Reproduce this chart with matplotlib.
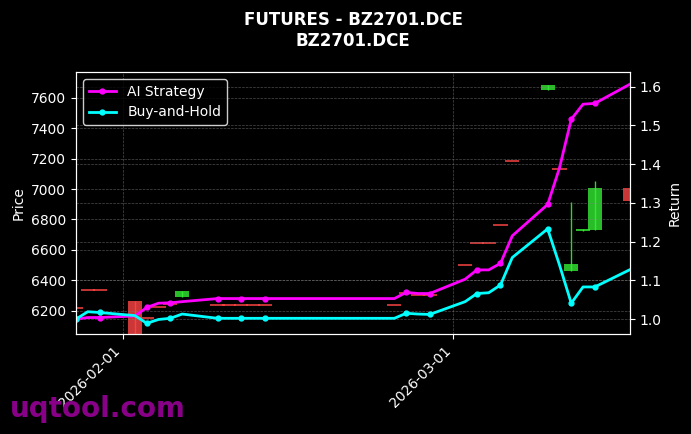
import pandas as pd
import matplotlib
matplotlib.use('Agg')
import matplotlib.pyplot as plt
import matplotlib.dates as mdates

# trading days shown on the chart
dates = ['2026-01-28', '2026-01-29', '2026-01-30', '2026-02-02', '2026-02-03',
         '2026-02-04', '2026-02-05', '2026-02-06', '2026-02-09', '2026-02-10',
         '2026-02-11', '2026-02-12', '2026-02-13', '2026-02-24', '2026-02-25',
         '2026-02-26', '2026-02-27', '2026-03-02', '2026-03-03', '2026-03-04',
         '2026-03-05', '2026-03-06', '2026-03-09', '2026-03-10', '2026-03-11',
         '2026-03-12', '2026-03-13', '2026-03-16']

# OHLC
open_ = [6218, 6335, 6335, 6265, 6154, 6226, 6246, 6292, 6240, 6240,
         6240, 6240, 6240, 6240, 6318, 6305, 6305, 6502, 6647, 6647,
         6765, 7186, 7655, 7134, 6463, 6726, 6733, 7009]
close = [6218, 6335, 6335, 6020, 6154, 6226, 6246, 6331, 6240, 6240,
         6240, 6240, 6240, 6240, 6318, 6305, 6305, 6502, 6647, 6647,
         6765, 7186, 7686, 7134, 6509, 6739, 7009, 6923]
high = [6218, 6335, 6335, 6265, 6154, 6226, 6246, 6331, 6240, 6240,
        6240, 6240, 6240, 6240, 6318, 6305, 6305, 6502, 6647, 6647,
        6765, 7186, 7686, 7134, 6917, 6739, 7055, 7009]
low = [6218, 6335, 6335, 6020, 6154, 6226, 6246, 6292, 6240, 6240,
       6240, 6240, 6240, 6240, 6318, 6305, 6305, 6502, 6647, 6647,
       6765, 7186, 7655, 7134, 6463, 6726, 6733, 6923]

# cumulative returns
ai_strategy = [1.000, 1.004, 1.004, 1.008, 1.030, 1.041, 1.042, 1.045, 1.053, 1.053,
               1.053, 1.053, 1.053, 1.053, 1.069, 1.066, 1.066, 1.103, 1.127, 1.127,
               1.144, 1.215, 1.296, 1.390, 1.516, 1.555, 1.557, 1.607]
buy_hold = [1.000, 1.019, 1.017, 1.009, 0.989, 0.999, 1.002, 1.013, 1.002, 1.002,
            1.002, 1.002, 1.002, 1.002, 1.015, 1.013, 1.012, 1.045, 1.066, 1.068,
            1.088, 1.159, 1.233, 1.140, 1.041, 1.083, 1.083, 1.128]

df = pd.DataFrame({'open': open_, 'high': high, 'low': low, 'close': close,
                   'ai': ai_strategy, 'bh': buy_hold}, index=pd.to_datetime(dates))

plt.rcParams['font.family'] = 'DejaVu Sans'
fig = plt.figure(figsize=(6.91, 4.34), dpi=100, facecolor='black')
ax = fig.add_axes([0.110, 0.230, 0.802, 0.604])
ax.set_facecolor('black')

# candles
width = 1.2
for d, row in df.iterrows():
    up = row['close'] > row['open']
    color = '#33ee33' if up else '#ff4444'
    ax.vlines(d, row['low'], row['high'], color=color, linewidth=1, alpha=0.9)
    body = abs(row['close'] - row['open'])
    if body == 0:
        ax.hlines(row['open'], d - pd.Timedelta(days=width / 2), d + pd.Timedelta(days=width / 2),
                  color='#ff4444', linewidth=1.2, alpha=0.9)
    else:
        ax.bar(d, body, bottom=min(row['open'], row['close']), width=width,
               color=color, alpha=0.8)

ax.set_ylim(6045, 7770)
ax.set_xlim(df.index[0], df.index[-1])
ax.set_ylabel('Price', color='white')

ax2 = ax.twinx()
ax2.plot(df.index, df['ai'], color='#ff00ff', linewidth=2, marker='o', markersize=3.5,
         markevery=2, label='AI Strategy')
ax2.plot(df.index, df['bh'], color='#00ffff', linewidth=2, marker='o', markersize=3.5,
         markevery=2, label='Buy-and-Hold')
ax2.set_ylim(0.961, 1.638)
ax2.set_ylabel('Return', color='white')

for a in (ax, ax2):
    a.tick_params(colors='white', labelsize=10)
    for s in a.spines.values():
        s.set_color('white')
ax.grid(True, color='gray', linestyle='--', linewidth=0.5, alpha=0.6)
ax2.grid(True, color='gray', linestyle='--', linewidth=0.5, alpha=0.6)

ax.xaxis.set_major_locator(mdates.MonthLocator())
ax.xaxis.set_major_formatter(mdates.DateFormatter('%Y-%m-%d'))
plt.setp(ax.get_xticklabels(), rotation=45, ha='right')

leg = ax2.legend(loc='upper left', facecolor='black', edgecolor='white', fontsize=10)
for t in leg.get_texts():
    t.set_color('white')

ax.set_title('FUTURES - BZ2701.DCE\nBZ2701.DCE', color='white', fontsize=12,
             fontweight='bold', pad=19)

fig.text(0.015, 0.04, 'uqtool.com', color='#880088', fontsize=20, fontweight='bold')

fig.savefig('out.png', dpi=100, facecolor='black')
